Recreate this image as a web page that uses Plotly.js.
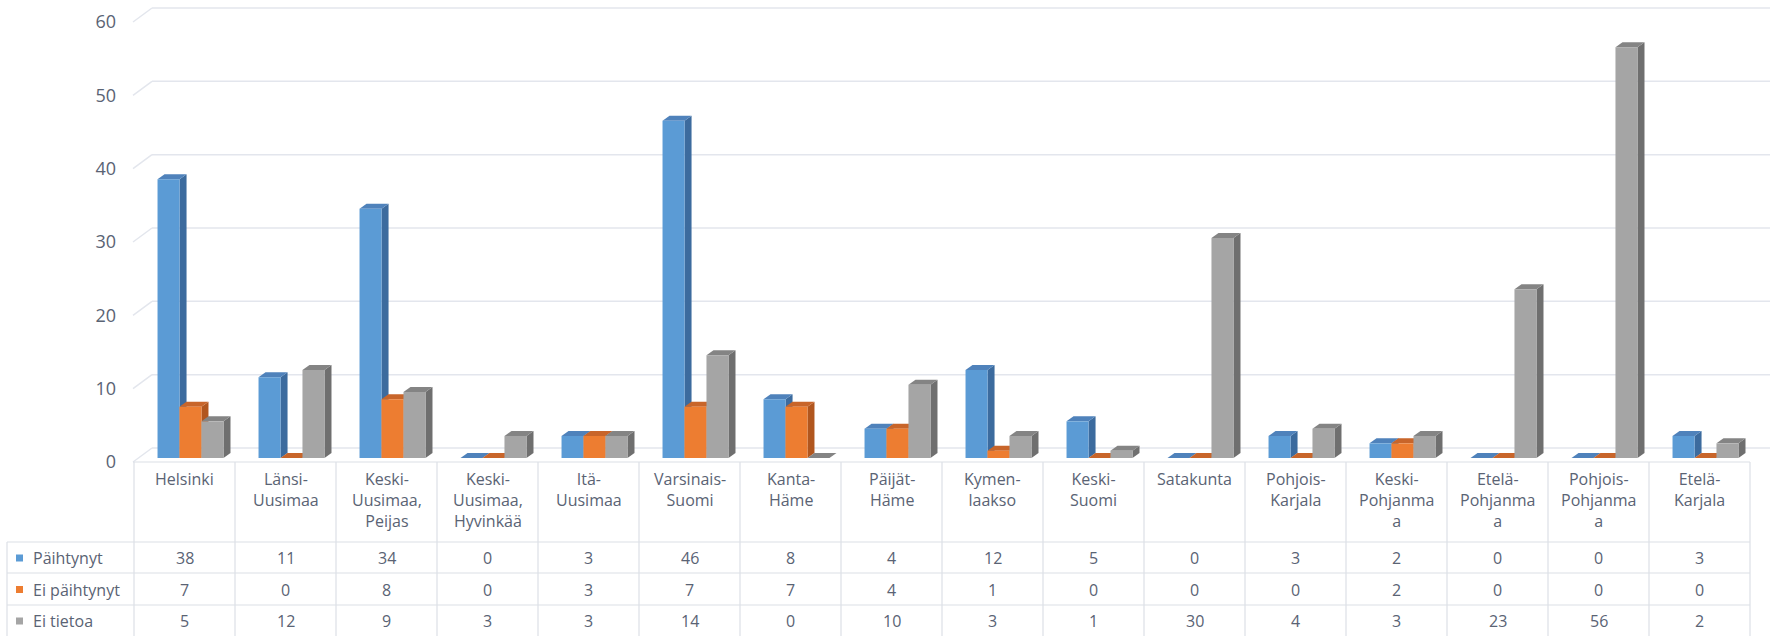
<!DOCTYPE html>
<html><head><meta charset="utf-8">
<script src="https://cdn.plot.ly/plotly-3.0.1.min.js"></script>
<style>html,body{margin:0;padding:0;background:#fff}#chart{width:1779px;height:636px}</style>
</head><body><div id="chart"></div>
<script>
// ---- data ----
const categories = ['Helsinki','Länsi-<br>Uusimaa','Keski-<br>Uusimaa,<br>Peijas','Keski-<br>Uusimaa,<br>Hyvinkää','Itä-<br>Uusimaa','Varsinais-<br>Suomi','Kanta-<br>Häme','Päijät-<br>Häme','Kymen-<br>laakso','Keski-<br>Suomi','Satakunta','Pohjois-<br>Karjala','Keski-<br>Pohjanma<br>a','Etelä-<br>Pohjanma<br>a','Pohjois-<br>Pohjanma<br>a','Etelä-<br>Karjala'];
const seriesNames = ['Päihtynyt','Ei päihtynyt','Ei tietoa'];
const paihtynyt   = [38,11,34,0,3,46,8,4,12,5,0,3,2,0,0,3];
const eiPaihtynyt = [7,0,8,0,3,7,7,4,1,0,0,0,2,0,0,0];
const eiTietoa    = [5,12,9,3,3,14,0,10,3,1,30,4,3,23,56,2];
const yTicks = [0,10,20,30,40,50,60];

// ---- layout helpers ----
const series = [paihtynyt, eiPaihtynyt, eiTietoa];
const idx = categories.map((_, i) => i);
const L = 134, R = 1750, T = 18, B = 458;
const px = p => (p - L) / (R - L);
const py = p => (B - p) / (B - T);
const textColor = '#5a6374';
const lineColor = '#dcdfe6';
const gridColor = '#e3e6ed';
const frontColors = ['#5b9bd5', '#ed7d31', '#a5a5a5'];
const sideColors  = ['#3c6b9e', '#b1561e', '#6f6f6f'];
const topColors   = ['#4f82bb', '#c8652a', '#848484'];
const offsets = [-0.267, -0.05, 0.168];
const barW = 0.218;
const unitPx = (R - L) / categories.length;
const dx = 7 / unitPx;
const yMax = yTicks[yTicks.length - 1];
const dy = 5 * yMax / (B - T);

const traces = series.map((vals, k) => ({
  type: 'bar', x: idx, y: vals, name: seriesNames[k],
  width: barW, offset: offsets[k],
  marker: {color: frontColors[k], line: {width: 0}},
  showlegend: false, hoverinfo: 'skip'
}));

const shapes = [];
// back-wall gridlines with left diagonals
yTicks.forEach(v => {
  const yv = v / yMax;
  const back = yv + 10 / (B - T), front = yv - 4 / (B - T);
  shapes.push({type: 'line', xref: 'paper', yref: 'paper', x0: px(152), x1: px(1770), y0: back, y1: back,
    line: {color: gridColor, width: 1.5}, layer: 'below'});
  shapes.push({type: 'line', xref: 'paper', yref: 'paper', x0: px(133), x1: px(152), y0: front, y1: back,
    line: {color: gridColor, width: 1.5}, layer: 'below'});
});
// 3D side and top faces
idx.forEach(i => {
  series.forEach((vals, k) => {
    const v = vals[i];
    const x0 = i + offsets[k], x1 = x0 + barW;
    shapes.push({type: 'path', xref: 'x', yref: 'y', layer: 'between',
      path: `M${x1},0 L${x1 + dx},${dy} L${x1 + dx},${v + dy} L${x1},${v} Z`,
      fillcolor: sideColors[k], line: {width: 0}});
    shapes.push({type: 'path', xref: 'x', yref: 'y', layer: 'between',
      path: `M${x0},${v} L${x0 + dx},${v + dy} L${x1 + dx},${v + dy} L${x1},${v} Z`,
      fillcolor: topColors[k], line: {width: 0}});
  });
});
// data table grid
const rowLines = [542, 573, 605];
shapes.push({type: 'line', xref: 'paper', yref: 'paper', x0: px(133), x1: px(1750), y0: py(462), y1: py(462), line: {color: lineColor, width: 1.2}});
rowLines.forEach(r => shapes.push({type: 'line', xref: 'paper', yref: 'paper', x0: px(7), x1: px(1750), y0: py(r), y1: py(r), line: {color: lineColor, width: 1.2}}));
for (let k = 0; k <= categories.length; k++) {
  const xx = L + k * unitPx;
  shapes.push({type: 'line', xref: 'paper', yref: 'paper', x0: px(xx), x1: px(xx), y0: py(462), y1: py(636), line: {color: lineColor, width: 1.2}});
}
shapes.push({type: 'line', xref: 'paper', yref: 'paper', x0: px(7), x1: px(7), y0: py(542), y1: py(636), line: {color: lineColor, width: 1.2}});

const rowCenters = [558, 589.5, 621];
const annotations = [];
categories.forEach((c, i) => annotations.push({xref: 'x', yref: 'paper', x: i, y: py(466), yanchor: 'top', xanchor: 'center',
  text: c, showarrow: false, align: 'center', font: {size: 16, color: textColor}}));
series.forEach((vals, k) => {
  annotations.push({xref: 'paper', yref: 'paper', x: px(31), y: py(rowCenters[k]), xanchor: 'left', yanchor: 'middle',
    text: seriesNames[k], showarrow: false, font: {size: 16, color: textColor}});
  shapes.push({type: 'rect', xref: 'paper', yref: 'paper', x0: px(16), x1: px(23), y0: py(rowCenters[k] - 3.5), y1: py(rowCenters[k] + 3.5),
    fillcolor: frontColors[k], line: {width: 0}});
  vals.forEach((v, i) => annotations.push({xref: 'x', yref: 'paper', x: i, y: py(rowCenters[k]), xanchor: 'center', yanchor: 'middle',
    text: String(v), showarrow: false, font: {size: 16, color: textColor}}));
});

const layout = {
  width: 1779, height: 636,
  margin: {l: L, r: 1779 - R, t: T, b: 636 - B, pad: 0},
  paper_bgcolor: '#ffffff', plot_bgcolor: 'rgba(0,0,0,0)',
  font: {family: 'Open Sans, sans-serif', size: 16, color: textColor},
  barmode: 'group', showlegend: false,
  xaxis: {range: [-0.5, categories.length - 0.5], showticklabels: false, showgrid: false, zeroline: false, showline: false, fixedrange: true},
  yaxis: {range: [0, yMax], tickvals: yTicks, showgrid: false, zeroline: false, showline: false, ticks: '',
    ticklabelstandoff: 17, ticklabelshift: 4, tickfont: {size: 18, color: textColor}, fixedrange: true},
  shapes: shapes, annotations: annotations
};
Plotly.newPlot('chart', traces, layout, {displayModeBar: false, staticPlot: true});
</script>
</body></html>
